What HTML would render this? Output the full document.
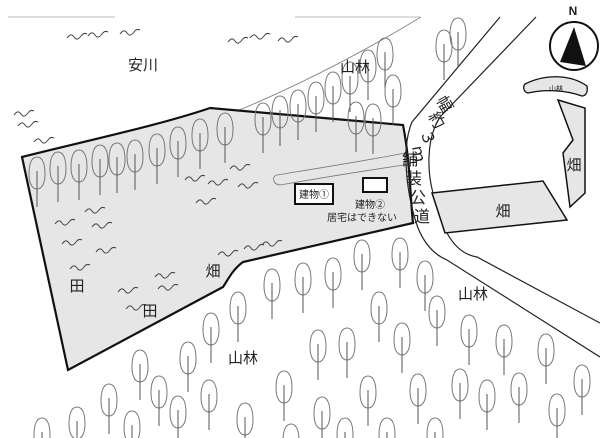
<!DOCTYPE html>
<html><head><meta charset="utf-8"><style>
html,body{margin:0;padding:0;background:#fff;width:600px;height:438px;overflow:hidden}
svg{display:block;overflow:hidden}
text{font-family:"Liberation Sans","Noto Sans CJK JP",sans-serif;fill:#222}
</style></head><body>
<svg width="600" height="438" viewBox="0 0 600 438" xmlns="http://www.w3.org/2000/svg" overflow="hidden">
<defs>
<g id="t"><path d="M0,0 c-6,0 -8,8 -8,17 c0,9 3,15 8,15 c5,0 8,-6 8,-15 c0,-9 -2,-17 -8,-17z" fill="none" stroke="#777" stroke-width="1"/><path d="M0,14 v36" stroke="#555" stroke-width="1"/></g>
<path id="w" d="M0,4 c3,-4 5,-4 7,-1 c2,3 4,3 7,-1 c2,-3 4,-3 6,-2" fill="none" stroke="#444" stroke-width="1"/>
</defs>
<path d="M8,17 H115 M295,17 H420" stroke="#bbb" stroke-width="1"/>
<path d="M207,123 C280,95 350,60 421,17" fill="none" stroke="#888" stroke-width="1"/>
<g>
<use href="#w" x="67" y="34"/><use href="#w" x="88" y="32"/><use href="#w" x="120" y="30"/>
<use href="#w" x="228" y="38"/><use href="#w" x="250" y="34"/><use href="#w" x="278" y="37"/>
<use href="#w" x="14" y="111"/><use href="#w" x="18" y="122"/><use href="#w" x="34" y="138"/>
</g>
<path d="M22,157 C90,140 160,125 210,108 L403,125 C410,160 410,195 413,223 L243,262 C232,270 228,280 223,287 L68,370 Z" fill="#e6e6e6" stroke="#111" stroke-width="2.2"/>
<path d="M432,193 L543,181 L567,220 L445,233 Z" fill="#e6e6e6" stroke="#111" stroke-width="1.5"/>
<path d="M558,100 L585,108 L585,193 L570,207 L563,153 L573,140 Z" fill="#e6e6e6" stroke="#111" stroke-width="1.5"/>
<path d="M525,84 C545,74 570,74 587,86 C588,92 586,96 582,96 C565,90 545,89 528,93 C523,92 523,86 525,84 Z" fill="#e6e6e6" stroke="#111" stroke-width="1.3"/>
<text x="556" y="91" font-size="7" text-anchor="middle">山林</text>
<path d="M500,17 L412,122 C400,150 408,200 418,228 C425,245 435,255 447,260 L600,357" fill="none" stroke="#222" stroke-width="1.2"/>
<path d="M536,17 L440,117 C425,140 428,175 433,193 M447,233 C455,248 465,255 477,257 L600,323" fill="none" stroke="#222" stroke-width="1.2"/>
<circle cx="574" cy="46" r="24" fill="#fff" stroke="#111" stroke-width="2"/>
<path d="M574,27 L560,62 L586,66 Z" fill="#111"/>
<text x="573" y="15" font-size="12" font-weight="bold" text-anchor="middle">N</text>
<path d="M277,175 C320,168 370,160 405,153 L404,165 C370,170 320,178 280,185 C272,184 272,176 277,175Z" fill="none" stroke="#777" stroke-width="0.8"/>
<rect x="295" y="184" width="38" height="20" fill="#fff" stroke="#111" stroke-width="2"/>
<text x="314" y="198" font-size="10" text-anchor="middle">建物①</text>
<rect x="363" y="178" width="24" height="14" fill="#fff" stroke="#111" stroke-width="2"/>
<text x="370" y="208" font-size="10" text-anchor="middle">建物②</text>
<text x="362" y="221" font-size="10" text-anchor="middle">居宅はできない</text>
<g font-size="16">
<text transform="translate(436,100) rotate(60)">幅</text>
<text transform="translate(428,116) rotate(60)">約</text>
<text transform="translate(420,132) rotate(70)">３</text>
<text transform="translate(412,147) rotate(80)">ｍ</text>
<text x="402" y="165">舗</text>
<text x="406" y="184">装</text>
<text x="410" y="203">公</text>
<text x="414" y="222">道</text>
</g>
<g>
<use href="#t" x="37" y="157"/><use href="#t" x="58" y="152"/><use href="#t" x="79" y="150"/><use href="#t" x="100" y="145"/><use href="#t" x="117" y="143"/><use href="#t" x="135" y="140"/><use href="#t" x="157" y="134"/><use href="#t" x="178" y="127"/><use href="#t" x="200" y="119"/><use href="#t" x="225" y="113"/>
<use href="#t" x="263" y="103"/><use href="#t" x="280" y="96"/><use href="#t" x="298" y="90"/><use href="#t" x="316" y="82"/><use href="#t" x="333" y="72"/><use href="#t" x="350" y="62"/><use href="#t" x="368" y="50"/><use href="#t" x="385" y="38"/><use href="#t" x="356" y="102"/><use href="#t" x="373" y="104"/><use href="#t" x="393" y="75"/><use href="#t" x="444" y="30"/><use href="#t" x="458" y="18"/>
<use href="#t" x="42" y="418"/><use href="#t" x="77" y="407"/><use href="#t" x="109" y="384"/><use href="#t" x="132" y="411"/><use href="#t" x="140" y="350"/><use href="#t" x="159" y="376"/><use href="#t" x="178" y="396"/><use href="#t" x="188" y="342"/><use href="#t" x="211" y="313"/><use href="#t" x="209" y="380"/><use href="#t" x="238" y="292"/><use href="#t" x="245" y="403"/><use href="#t" x="272" y="269"/><use href="#t" x="284" y="371"/><use href="#t" x="303" y="263"/><use href="#t" x="291" y="424"/><use href="#t" x="318" y="330"/><use href="#t" x="322" y="397"/><use href="#t" x="333" y="258"/><use href="#t" x="347" y="328"/><use href="#t" x="345" y="418"/><use href="#t" x="368" y="376"/><use href="#t" x="379" y="292"/><use href="#t" x="387" y="418"/><use href="#t" x="402" y="323"/><use href="#t" x="418" y="374"/><use href="#t" x="435" y="418"/><use href="#t" x="437" y="296"/><use href="#t" x="460" y="369"/><use href="#t" x="469" y="315"/><use href="#t" x="487" y="380"/><use href="#t" x="504" y="325"/><use href="#t" x="519" y="373"/><use href="#t" x="546" y="334"/><use href="#t" x="557" y="394"/><use href="#t" x="582" y="365"/><use href="#t" x="362" y="240"/><use href="#t" x="400" y="238"/><use href="#t" x="425" y="261"/>
</g>
<g>
<use href="#w" x="185" y="176"/><use href="#w" x="208" y="180"/><use href="#w" x="230" y="165"/><use href="#w" x="238" y="183"/><use href="#w" x="196" y="199"/>
<use href="#w" x="55" y="220"/><use href="#w" x="85" y="208"/><use href="#w" x="92" y="223"/><use href="#w" x="62" y="240"/><use href="#w" x="96" y="248"/><use href="#w" x="70" y="265"/>
<use href="#w" x="218" y="251"/><use href="#w" x="244" y="245"/><use href="#w" x="262" y="241"/>
<use href="#w" x="118" y="288"/><use href="#w" x="155" y="273"/><use href="#w" x="158" y="285"/><use href="#w" x="126" y="305"/>
</g>
<g font-size="15">
<text x="143" y="70" text-anchor="middle">安川</text>
<text x="355" y="72" text-anchor="middle">山林</text>
<text x="77" y="291" text-anchor="middle">田</text>
<text x="150" y="316" text-anchor="middle">田</text>
<text x="213" y="276" text-anchor="middle">畑</text>
<text x="243" y="363" text-anchor="middle">山林</text>
<text x="473" y="299" text-anchor="middle">山林</text>
<text x="503" y="216" text-anchor="middle">畑</text>
<text x="574" y="170" text-anchor="middle">畑</text>
</g>
</svg>
</body></html>
